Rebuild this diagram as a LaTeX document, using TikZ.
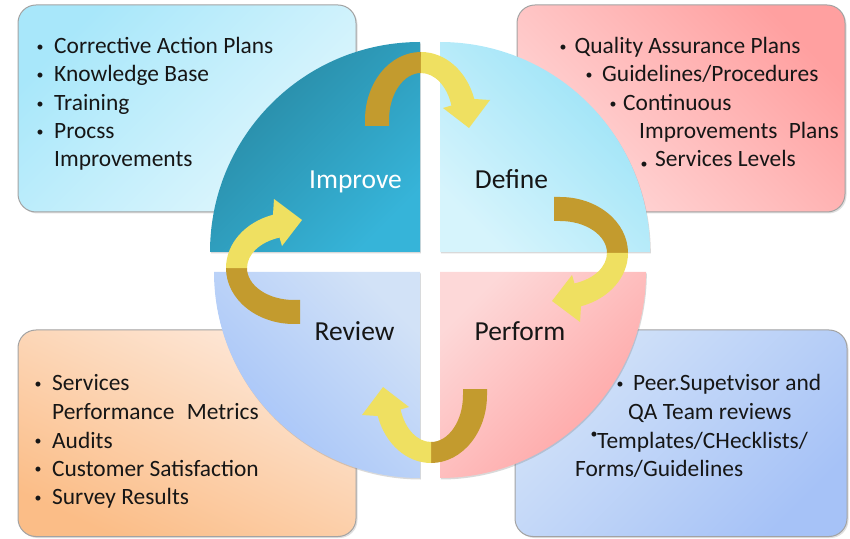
\documentclass[tikz,border=0pt]{standalone}
\usepackage{fontspec}
\setmainfont{Carlito}
\usetikzlibrary{shadows}
\definecolor{txtc}{HTML}{161616}
\definecolor{boxline}{HTML}{A3A3A3}
\definecolor{goldd}{HTML}{C39B2E}
\definecolor{yell}{HTML}{EFE061}
\definecolor{impA}{HTML}{2888A2}
\definecolor{impB}{HTML}{36B4D9}
\definecolor{defA}{HTML}{98E2F7}
\definecolor{defB}{HTML}{D6F4FC}
\definecolor{perA}{HTML}{FDD8D8}
\definecolor{perB}{HTML}{FFA2A2}
\definecolor{revA}{HTML}{D2E2F7}
\definecolor{revB}{HTML}{A3C2F9}
\definecolor{tlA}{HTML}{A8E7FA}
\definecolor{tlB}{HTML}{E2F7FD}
\definecolor{trA}{HTML}{FFA0A0}
\definecolor{trB}{HTML}{FFD8D8}
\definecolor{blA}{HTML}{FDE8D9}
\definecolor{blB}{HTML}{FBBD87}
\definecolor{brA}{HTML}{D3E3F8}
\definecolor{brB}{HTML}{A6C2F7}
\newcommand\bl[2][2.5pt]{\llap{\makebox[0pt][c]{\raisebox{#1}{\fontsize{14}{14}\selectfont •}}\hspace{#2}}}
\newcommand\cyclearrow{%
  \fill[goldd] (-56,-6) -- (-56,0) arc[start angle=180,end angle=90,x radius=56,y radius=68]
    -- (0,47) arc[start angle=90,end angle=180,x radius=32,y radius=47] -- (-32,-6) -- cycle;
  \fill[yell] (0,68) arc[start angle=90,end angle=18,x radius=56,y radius=68]
    -- (69,20) -- (48,-8) -- (22,12) -- (30.4,14.5)
    arc[start angle=18,end angle=90,x radius=32,y radius=47] -- cycle;
}
\tikzset{
  infobox/.style={draw=boxline, line width=1pt, rounded corners=18pt,
    drop shadow={opacity=0.25, shadow xshift=1.5pt, shadow yshift=-1.5pt}},
  quad/.style={drop shadow={opacity=0.3, shadow xshift=0.8pt, shadow yshift=-1.5pt}},
  txt/.style={anchor=base west, inner sep=0pt, text=txtc, font=\fontsize{23.4}{28}\selectfont},
  lbl/.style={anchor=base, inner sep=0pt, text=txtc, font=\fontsize{27.5}{30}\selectfont},
}
\begin{document}
\begin{tikzpicture}[x=1pt,y=1pt]
\useasboundingbox (0,0) rectangle (850,538);
% boxes
\shade[infobox, top color=tlA, bottom color=tlB, shading angle=45] (18,326) rectangle (356,533);
\shade[infobox, top color=trA, bottom color=trB, shading angle=-45] (517,326) rectangle (845,533);
\shade[infobox, top color=blA, bottom color=blB, shading angle=-25] (18,1.5) rectangle (356,208);
\shade[infobox, top color=brA, bottom color=brB, shading angle=45] (515,1.5) rectangle (847,208);
% quadrants
\shade[quad, top color=impA, bottom color=impB, shading angle=45] (420,286) -- (210,286) arc[start angle=180,end angle=90,radius=210] -- cycle;
\shade[quad, top color=defA, bottom color=defB, shading angle=-45] (440,286) -- (440,496) arc[start angle=90,end angle=0,radius=210] -- cycle;
\shade[quad, top color=perA, bottom color=perB, shading angle=45] (440,266) -- (646,266) arc[start angle=0,end angle=-90,radius=206] -- cycle;
\shade[quad, top color=revA, bottom color=revB, shading angle=-45] (420,266) -- (420,60) arc[start angle=270,end angle=180,radius=206] -- cycle;
% arrows
\begin{scope}[shift={(421,418)}]\cyclearrow\end{scope}
\begin{scope}[shift={(560,285)},rotate=-90]\cyclearrow\end{scope}
\begin{scope}[shift={(431,143)},rotate=180]\cyclearrow\end{scope}
\begin{scope}[shift={(294,270)},rotate=90]\cyclearrow\end{scope}
% labels
\node[lbl, text=white] (limp) at (355.5,349) {Improve};
\node[lbl] (ldef) at (511.5,349) {Define};
\node[lbl] (lrev) at (354.5,197) {Review};
\node[lbl] (lper) at (520,197) {Perform};
% top-left text
\node[txt] (tl1) at (54,484) {\bl{14pt}Corrective Action Plans};
\node[txt] (tl2) at (54,456) {\bl{14pt}Knowledge Base};
\node[txt] (tl3) at (54,427) {\bl{14pt}Training};
\node[txt] (tl4) at (54,399) {\bl{14pt}Procss};
\node[txt] (tl5) at (54,371) {Improvements};
% top-right text
\node[txt] (tr1) at (574.5,484) {\bl{11.5pt}Quality Assurance Plans};
\node[txt] (tr2) at (602,456) {\bl{13pt}Guidelines/Procedures};
\node[txt] (tr3) at (623,427) {\bl{10pt}Continuous};
\node[txt] (tr4) at (639,399) {Improvements\hspace{6pt} Plans};
\node[txt] (tr5) at (655,371) {\bl[-1.5pt]{11pt}Services Levels};
% bottom-left text
\node[txt] (bl1) at (52,147) {\bl{14pt}Services};
\node[txt] (bl2) at (52,118.5) {Performance\hspace{7pt} Metrics};
\node[txt] (bl3) at (52,90) {\bl{14pt}Audits};
\node[txt] (bl4) at (52,62) {\bl{14pt}Customer Satisfaction};
\node[txt] (bl5) at (52,33.5) {\bl{14pt}Survey Results};
% bottom-right text
\node[txt] (br1) at (633,147) {\bl{13pt}Peer.Supetvisor and};
\node[txt] (br2) at (628,118.5) {QA Team reviews};
\node[txt] (br3) at (597,90) {\bl[10pt]{3pt}Templates/CHecklists/};
\node[txt] (br4) at (575,62) {Forms/Guidelines};
\end{tikzpicture}
\end{document}
